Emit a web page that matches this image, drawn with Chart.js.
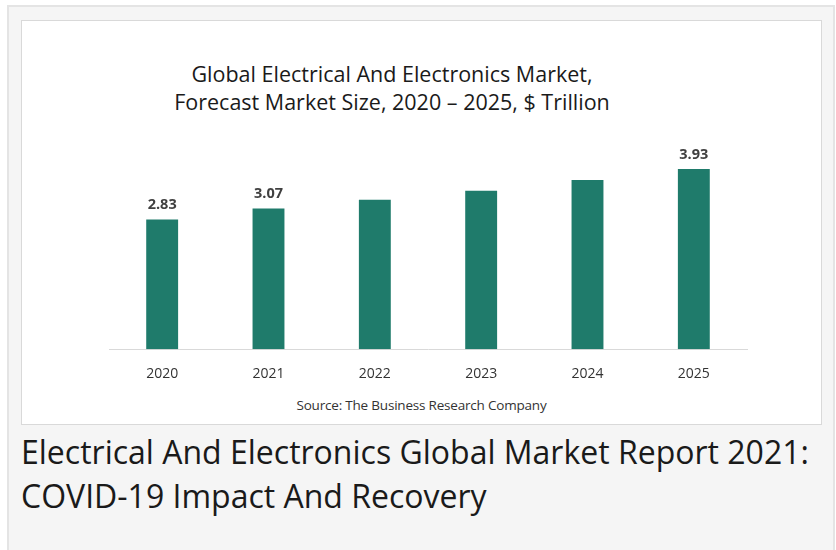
<!DOCTYPE html>
<html>
<head>
<meta charset="utf-8">
<script src="https://cdn.jsdelivr.net/npm/chart.js@4.4.1/dist/chart.umd.min.js"></script>
<style>
  html, body { margin: 0; padding: 0; background: #fff; }
  body { width: 836px; height: 550px; position: relative; overflow: hidden; font-family: "Open Sans", sans-serif; }
  .panel { position: absolute; left: 7px; top: 5px; width: 824px; height: 560px; background: #f5f5f5; border: 2px solid #e4e4e4; }
  .box { position: absolute; left: 21px; top: 20px; width: 799px; height: 403px; background: #fff; border: 1px solid #d9d9d9; }
  .title { position: absolute; left: 42px; width: 700px; top: 60px; text-align: center; font-size: 21.5px; line-height: 28px; color: #1a1a1a; }
  .source { position: absolute; left: 22px; width: 799px; top: 396px; text-align: center; font-size: 13.5px; color: #333; letter-spacing: -0.2px; }
  .heading { position: absolute; left: 21px; top: 430px; font-size: 32px; line-height: 44px; color: #1a1a1a; }
  .chart-wrap { position: absolute; left: 21px; top: 130px; width: 801px; height: 260px; }
</style>
</head>
<body>
<div class="panel"></div>
<div class="box"></div>
<div class="title">Global Electrical And Electronics Market,<br>Forecast Market Size, 2020 – 2025, $ Trillion</div>
<div class="chart-wrap"><canvas id="market-chart"></canvas></div>
<div class="source">Source: The Business Research Company</div>
<div class="heading">Electrical And Electronics Global Market Report 2021:<br>COVID-19 Impact And Recovery</div>

<script>
const years = ['2020', '2021', '2022', '2023', '2024', '2025'];
const marketSize = [2.83, 3.07, 3.26, 3.46, 3.69, 3.93];
const valueLabels = ['2.83', '3.07', '', '', '', '3.93'];

// draws the value above the bars that carry a label
const barLabels = {
  id: 'barLabels',
  afterDatasetsDraw(chart) {
    const ctx = chart.ctx;
    const meta = chart.getDatasetMeta(0);
    ctx.save();
    ctx.font = 'bold 14.5px "Open Sans", sans-serif';
    ctx.fillStyle = '#404040';
    ctx.textAlign = 'center';
    ctx.textBaseline = 'bottom';
    meta.data.forEach((bar, i) => {
      if (valueLabels[i]) ctx.fillText(valueLabels[i], bar.x, bar.y - 7);
    });
    ctx.restore();
  }
};

const chartEl = document.getElementById('market-chart');
window.marketChart = new Chart(chartEl, {
  type: 'bar',
  data: {
    labels: years,
    datasets: [{
      label: 'Market size',
      data: marketSize,
      backgroundColor: '#1f7b6b',
      barPercentage: 0.3,
      categoryPercentage: 1
    }]
  },
  options: {
    responsive: true,
    maintainAspectRatio: false,
    animation: false,
    layout: { padding: { left: 88, right: 75, top: 13, bottom: 0 } },
    plugins: { legend: { display: false }, tooltip: { enabled: false } },
    scales: {
      x: {
        grid: { display: false },
        border: { color: '#d9d9d9', width: 1 },
        ticks: { color: '#333', padding: 8, font: { family: 'Open Sans', size: 14 } }
      },
      y: { min: 0, max: 4.5, display: false }
    }
  },
  plugins: [barLabels]
});
</script>
</body>
</html>
